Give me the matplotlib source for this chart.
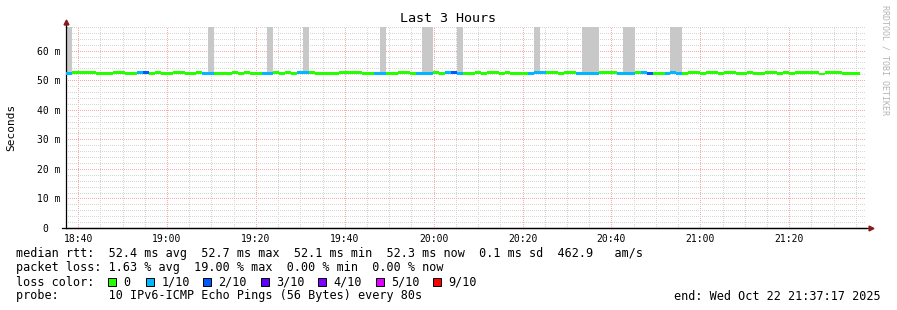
import datetime

import numpy as np
import matplotlib
matplotlib.use("Agg")
import matplotlib.pyplot as plt
import matplotlib.dates as mdates
from matplotlib.patches import Rectangle
from matplotlib.ticker import MultipleLocator, FuncFormatter

# ---------------------------------------------------------------
# Data (one value per 80 s step)
# ---------------------------------------------------------------
END_TIME = datetime.datetime(2025, 10, 22, 21, 37, 17)
START_TIME = END_TIME - datetime.timedelta(hours=3)
STEP_SECONDS = 80

median_ms = [
    52.4, 52.6, 52.5, 52.6, 52.6, 52.3, 52.3, 52.4, 52.5, 52.5,
    52.3, 52.3, 52.5, 52.5, 52.4, 52.6, 52.4, 52.3, 52.5, 52.5,
    52.4, 52.3, 52.6, 52.4, 52.4, 52.4, 52.3, 52.3, 52.5, 52.4,
    52.5, 52.3, 52.4, 52.4, 52.4, 52.6, 52.4, 52.5, 52.3, 52.5,
    52.5, 52.6, 52.3, 52.4, 52.3, 52.4, 52.6, 52.5, 52.7, 52.5,
    52.4, 52.4, 52.3, 52.3, 52.4, 52.4, 52.6, 52.6, 52.4, 52.3,
    52.3, 52.4, 52.5, 52.4, 52.6, 52.5, 52.3, 52.4, 52.4, 52.5,
    52.4, 52.6, 52.6, 52.4, 52.5, 52.4, 52.3, 52.3, 52.3, 52.5,
    52.5, 52.6, 52.5, 52.2, 52.5, 52.5, 52.4, 52.3, 52.3, 52.3,
    52.5, 52.6, 52.6, 52.4, 52.3, 52.3, 52.5, 52.5, 52.4, 52.3,
    52.4, 52.4, 52.5, 52.4, 52.3, 52.5, 52.6, 52.4, 52.5, 52.6,
    52.4, 52.6, 52.5, 52.4, 52.4, 52.6, 52.4, 52.4, 52.6, 52.6,
    52.4, 52.6, 52.4, 52.6, 52.5, 52.6, 52.5, 52.1, 52.6, 52.6,
    52.6, 52.4, 52.4, 52.4,
]

# lost pings out of 10 per step
loss_tenths = [
    1, 0, 0, 0, 0, 0, 0, 0, 0, 0,
    0, 0, 1, 2, 0, 0, 0, 0, 0, 0,
    0, 0, 0, 1, 1, 0, 0, 0, 0, 0,
    0, 0, 0, 1, 1, 0, 0, 0, 0, 1,
    1, 0, 0, 0, 0, 0, 0, 0, 0, 0,
    0, 0, 1, 1, 0, 0, 0, 0, 0, 1,
    1, 1, 0, 0, 1, 2, 1, 0, 0, 0,
    0, 0, 0, 0, 0, 0, 0, 0, 1, 1,
    1, 0, 0, 0, 0, 0, 1, 1, 1, 1,
    0, 0, 0, 1, 1, 1, 0, 1, 2, 0,
    0, 1, 1, 1, 0, 0, 0, 0, 0, 0,
    0, 0, 0, 0, 0, 0, 0, 0, 0, 0,
    0, 0, 0, 0, 0, 0, 0, 0, 0, 0,
    0, 0, 0, 0,
]

# steps whose slowest ping goes off the top of the graph (smoke)
smoke_steps = [0, 24, 34, 40, 53, 60, 61, 66, 79, 87, 88, 89, 94, 95, 102, 103]
SMOKE_TOP_MS = 70.0

LOSS_COLORS = ["#26ff00", "#00b8ff", "#0059ff", "#5e00ff", "#7e00ff", "#dd00ff", "#ff0000"]
LOSS_LABELS = ["0", "1/10", "2/10", "3/10", "4/10", "5/10", "9/10"]

# ---------------------------------------------------------------
# Figure
# ---------------------------------------------------------------
W, H = 897, 310
MONO = "DejaVu Sans Mono"
plt.rcParams["font.family"] = MONO

fig = plt.figure(figsize=(W / 100, H / 100), dpi=100)
fig.patch.set_facecolor("white")

# plot area in pixels: x 66..866, y 228 (0 ms) .. 27 (68 ms)
ax = fig.add_axes([66 / W, (H - 228) / H, 800 / W, 201 / H])
ax.set_facecolor("white")

step_days = STEP_SECONDS / 86400.0
t = np.array([mdates.date2num(START_TIME + datetime.timedelta(seconds=STEP_SECONDS * i))
              for i in range(len(median_ms))])
med = np.array(median_ms)

# smoke
for s in smoke_steps:
    ax.bar(t[s], SMOKE_TOP_MS - med[s], bottom=med[s], width=step_days,
           align="edge", color="#c8c8c8", linewidth=0, zorder=2)

# median line coloured by loss
line_h = 1.0
colors = [LOSS_COLORS[min(l, 6)] for l in loss_tenths]
ax.bar(t, np.full(len(med), line_h), bottom=med - line_h / 2, width=step_days,
       align="edge", color=colors, linewidth=0, zorder=3)

ax.set_xlim(mdates.date2num(START_TIME), mdates.date2num(END_TIME))
ax.set_ylim(0, 68)

# grid
ax.xaxis.set_major_locator(mdates.MinuteLocator(byminute=[0, 20, 40]))
ax.xaxis.set_minor_locator(mdates.MinuteLocator(byminute=range(0, 60, 5)))
ax.xaxis.set_major_formatter(mdates.DateFormatter("%H:%M"))
ax.yaxis.set_major_locator(MultipleLocator(10))
ax.yaxis.set_minor_locator(MultipleLocator(2))
ax.yaxis.set_major_formatter(FuncFormatter(lambda v, p: "0  " if v == 0 else f"{int(v)} m"))

ax.set_axisbelow(True)
ax.grid(which="minor", color="#d6d6d6", linestyle=(0, (1, 1.8)), linewidth=0.72,
        antialiased=False)
ax.grid(which="major", color="#f6aaaa", linestyle=(0, (1, 1.8)), linewidth=0.72,
        antialiased=False)

for side in ["top", "right"]:
    ax.spines[side].set_visible(False)
for side in ["left", "bottom"]:
    ax.spines[side].set_color("black")
    ax.spines[side].set_linewidth(0.9)

ax.tick_params(axis="x", which="major", length=0, pad=4, labelsize=7)
ax.tick_params(axis="x", which="minor", length=0)
ax.tick_params(axis="y", which="both", length=0, pad=4, labelsize=7)

# axis extensions and arrows
ax.plot([0, 0], [1, 1.02], transform=ax.transAxes, color="black", lw=0.9, clip_on=False)
ax.plot([-0.005, 1.004], [0, 0], transform=ax.transAxes, color="black", lw=0.9, clip_on=False)
ax.plot(0, 1.025, marker="^", markersize=3.5, color="#8b1a1a", transform=ax.transAxes, clip_on=False)
ax.plot(1.006, 0, marker=">", markersize=3.5, color="#8b1a1a", transform=ax.transAxes, clip_on=False)

ax.set_ylabel("Seconds", fontsize=8, labelpad=15)

fig.text(448 / W, 1 - 19 / H, "Last 3 Hours", ha="center", va="center", fontsize=9.6)
fig.text(885 / W, 1 - 5 / H, "RRDTOOL / TOBI OETIKER", rotation=270, ha="center", va="top",
         fontsize=6, color="#b4b4b4")

# legend block
FS = 8.5
def line_text(y_px, s):
    fig.text(16 / W, 1 - y_px / H, s, ha="left", va="center", fontsize=FS)

line_text(254, "median rtt:  52.4 ms avg  52.7 ms max  52.1 ms min  52.3 ms now  0.1 ms sd  462.9   am/s")
line_text(268, "packet loss: 1.63 % avg  19.00 % max  0.00 % min  0.00 % now")
line_text(282, "loss color:")
line_text(296, "probe:       10 IPv6-ICMP Echo Pings (56 Bytes) every 80s")
fig.text(881 / W, 1 - 296 / H, "end: Wed Oct 22 21:37:17 2025", ha="right", va="center", fontsize=FS)

box_x = [108, 146, 203, 261, 318, 376, 433]
for bx, c, lab in zip(box_x, LOSS_COLORS, LOSS_LABELS):
    fig.patches.append(Rectangle((bx / W, 1 - 286 / H), 8 / W, 8 / H, transform=fig.transFigure,
                                 facecolor=c, edgecolor="black", linewidth=0.7))
    fig.text((bx + 15.5) / W, 1 - 282 / H, lab, ha="left", va="center", fontsize=FS)

fig.savefig("out.png", dpi=100)
